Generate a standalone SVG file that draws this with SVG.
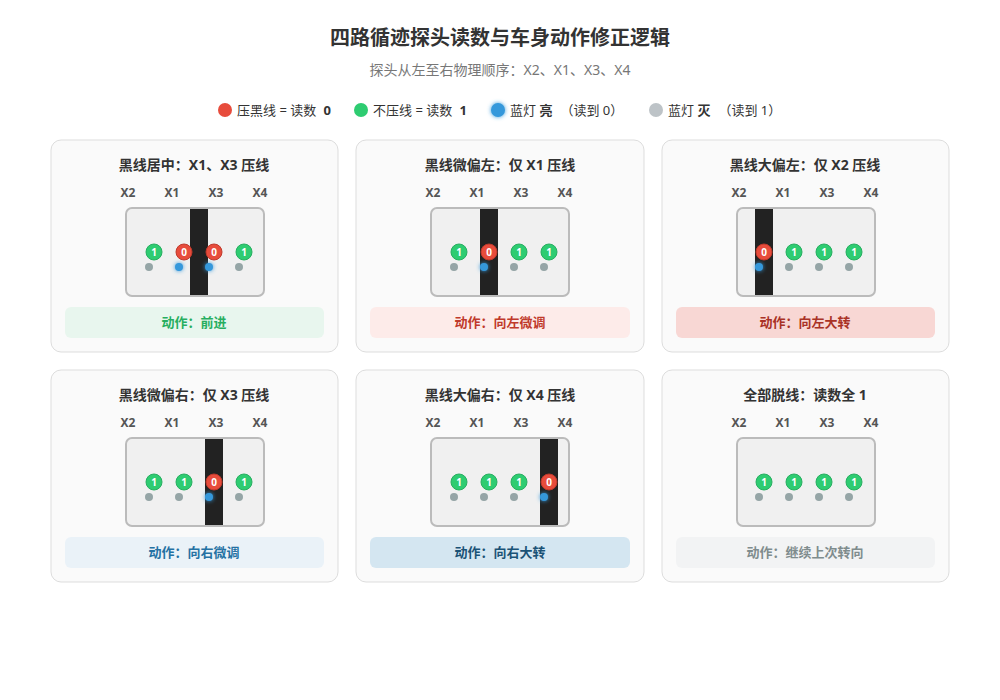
<svg xmlns="http://www.w3.org/2000/svg" width="1000" height="700" viewBox="0 0 1000 700">
<defs>
<style>
text{font-family:"Noto Sans","Noto Sans CJK SC",sans-serif;fill:#333}
.card{fill:#fafafa;stroke:#ddd;stroke-width:1}
.ct{font-size:14px;font-weight:bold;text-anchor:middle}
.lb{font-size:12px;font-weight:bold;fill:#555;text-anchor:middle}
.car{fill:#f0f0f0;stroke:#bbb;stroke-width:2}
.line{fill:#222}
.r{fill:#e74c3c;stroke:#c0392b;stroke-width:1}
.g{fill:#2ecc71;stroke:#27ae60;stroke-width:1}
.n{font-size:10px;font-weight:bold;fill:#fff;text-anchor:middle}
.off{fill:#95a5a6}
.on{fill:#3498db;filter:url(#glow)}
.act{font-size:13px;font-weight:bold;text-anchor:middle}
.lg{font-size:13px}
</style>
<filter id="glow" x="-2" y="-2" width="5" height="5"><feGaussianBlur in="SourceGraphic" stdDeviation="2" result="b"/><feMerge><feMergeNode in="b"/><feMergeNode in="SourceGraphic"/></feMerge></filter>
</defs>
<rect width="1000" height="700" fill="#fff"/>
<text x="500" y="45" text-anchor="middle" font-size="20" font-weight="bold">四路循迹探头读数与车身动作修正逻辑</text>
<text x="500" y="75" text-anchor="middle" font-size="14" style="fill:#777">探头从左至右物理顺序：X2、X1、X3、X4</text>
<g id="legend">
<circle cx="225" cy="110" r="7" fill="#e74c3c"/><text x="237" y="115" class="lg">压黑线 = 读数 <tspan font-weight="bold" dx="4">0</tspan></text>
<circle cx="361" cy="110" r="7" fill="#2ecc71"/><text x="373" y="115" class="lg">不压线 = 读数 <tspan font-weight="bold" dx="4">1</tspan></text>
<circle cx="498" cy="110" r="7" class="on"/><text x="510" y="115" class="lg">蓝灯 <tspan font-weight="bold">亮</tspan><tspan dx="8">（读到 0）</tspan></text>
<circle cx="656" cy="110" r="7" fill="#bdc3c7"/><text x="668" y="115" class="lg">蓝灯 <tspan font-weight="bold">灭</tspan><tspan dx="8">（读到 1）</tspan></text>
</g>

<g id="card1" transform="translate(51,140)">
<rect class="card" width="287" height="212" rx="10"/>
<text class="ct" x="143" y="30">黑线居中：X1、X3 压线</text>
<text class="lb" x="77" y="57">X2</text><text class="lb" x="121" y="57">X1</text><text class="lb" x="165" y="57">X3</text><text class="lb" x="209" y="57">X4</text>
<rect class="car" x="75" y="68" width="138" height="88" rx="6"/>
<rect class="line" x="139" y="69" width="18" height="86"/>
<circle class="g" cx="103" cy="112" r="8"/><text class="n" x="103" y="116">1</text>
<circle class="r" cx="133" cy="112" r="8"/><text class="n" x="133" y="116">0</text>
<circle class="r" cx="163" cy="112" r="8"/><text class="n" x="163" y="116">0</text>
<circle class="g" cx="193" cy="112" r="8"/><text class="n" x="193" y="116">1</text>
<circle class="off" cx="98" cy="127" r="4"/><circle class="on" cx="128" cy="127" r="4"/><circle class="on" cx="158" cy="127" r="4"/><circle class="off" cx="188" cy="127" r="4"/>
<rect x="14" y="167" width="259" height="31" rx="6" fill="#e8f6ee"/>
<text class="act" x="143" y="187" style="fill:#27ae60">动作：前进</text>
</g>

<g id="card2" transform="translate(356,140)">
<rect class="card" width="288" height="212" rx="10"/>
<text class="ct" x="144" y="30">黑线微偏左：仅 X1 压线</text>
<text class="lb" x="77" y="57">X2</text><text class="lb" x="121" y="57">X1</text><text class="lb" x="165" y="57">X3</text><text class="lb" x="209" y="57">X4</text>
<rect class="car" x="75" y="68" width="138" height="88" rx="6"/>
<rect class="line" x="124" y="69" width="18" height="86"/>
<circle class="g" cx="103" cy="112" r="8"/><text class="n" x="103" y="116">1</text>
<circle class="r" cx="133" cy="112" r="8"/><text class="n" x="133" y="116">0</text>
<circle class="g" cx="163" cy="112" r="8"/><text class="n" x="163" y="116">1</text>
<circle class="g" cx="193" cy="112" r="8"/><text class="n" x="193" y="116">1</text>
<circle class="off" cx="98" cy="127" r="4"/><circle class="on" cx="128" cy="127" r="4"/><circle class="off" cx="158" cy="127" r="4"/><circle class="off" cx="188" cy="127" r="4"/>
<rect x="14" y="167" width="260" height="31" rx="6" fill="#fdebe9"/>
<text class="act" x="144" y="187" style="fill:#c0392b">动作：向左微调</text>
</g>

<g id="card3" transform="translate(662,140)">
<rect class="card" width="287" height="212" rx="10"/>
<text class="ct" x="143" y="30">黑线大偏左：仅 X2 压线</text>
<text class="lb" x="77" y="57">X2</text><text class="lb" x="121" y="57">X1</text><text class="lb" x="165" y="57">X3</text><text class="lb" x="209" y="57">X4</text>
<rect class="car" x="75" y="68" width="138" height="88" rx="6"/>
<rect class="line" x="93" y="69" width="18" height="86"/>
<circle class="r" cx="102" cy="112" r="8"/><text class="n" x="102" y="116">0</text>
<circle class="g" cx="132" cy="112" r="8"/><text class="n" x="132" y="116">1</text>
<circle class="g" cx="162" cy="112" r="8"/><text class="n" x="162" y="116">1</text>
<circle class="g" cx="192" cy="112" r="8"/><text class="n" x="192" y="116">1</text>
<circle class="on" cx="97" cy="127" r="4"/><circle class="off" cx="127" cy="127" r="4"/><circle class="off" cx="157" cy="127" r="4"/><circle class="off" cx="187" cy="127" r="4"/>
<rect x="14" y="167" width="259" height="31" rx="6" fill="#f8d7d4"/>
<text class="act" x="143" y="187" style="fill:#a93226">动作：向左大转</text>
</g>

<g id="card4" transform="translate(51,370)">
<rect class="card" width="287" height="212" rx="10"/>
<text class="ct" x="143" y="30">黑线微偏右：仅 X3 压线</text>
<text class="lb" x="77" y="57">X2</text><text class="lb" x="121" y="57">X1</text><text class="lb" x="165" y="57">X3</text><text class="lb" x="209" y="57">X4</text>
<rect class="car" x="75" y="68" width="138" height="88" rx="6"/>
<rect class="line" x="154" y="69" width="18" height="86"/>
<circle class="g" cx="103" cy="112" r="8"/><text class="n" x="103" y="116">1</text>
<circle class="g" cx="133" cy="112" r="8"/><text class="n" x="133" y="116">1</text>
<circle class="r" cx="163" cy="112" r="8"/><text class="n" x="163" y="116">0</text>
<circle class="g" cx="193" cy="112" r="8"/><text class="n" x="193" y="116">1</text>
<circle class="off" cx="98" cy="127" r="4"/><circle class="off" cx="128" cy="127" r="4"/><circle class="on" cx="158" cy="127" r="4"/><circle class="off" cx="188" cy="127" r="4"/>
<rect x="14" y="167" width="259" height="31" rx="6" fill="#eaf2f8"/>
<text class="act" x="143" y="187" style="fill:#2471a3">动作：向右微调</text>
</g>

<g id="card5" transform="translate(356,370)">
<rect class="card" width="288" height="212" rx="10"/>
<text class="ct" x="144" y="30">黑线大偏右：仅 X4 压线</text>
<text class="lb" x="77" y="57">X2</text><text class="lb" x="121" y="57">X1</text><text class="lb" x="165" y="57">X3</text><text class="lb" x="209" y="57">X4</text>
<rect class="car" x="75" y="68" width="138" height="88" rx="6"/>
<rect class="line" x="184" y="69" width="18" height="86"/>
<circle class="g" cx="103" cy="112" r="8"/><text class="n" x="103" y="116">1</text>
<circle class="g" cx="133" cy="112" r="8"/><text class="n" x="133" y="116">1</text>
<circle class="g" cx="163" cy="112" r="8"/><text class="n" x="163" y="116">1</text>
<circle class="r" cx="193" cy="112" r="8"/><text class="n" x="193" y="116">0</text>
<circle class="off" cx="98" cy="127" r="4"/><circle class="off" cx="128" cy="127" r="4"/><circle class="off" cx="158" cy="127" r="4"/><circle class="on" cx="188" cy="127" r="4"/>
<rect x="14" y="167" width="260" height="31" rx="6" fill="#d4e6f1"/>
<text class="act" x="144" y="187" style="fill:#1a5276">动作：向右大转</text>
</g>

<g id="card6" transform="translate(662,370)">
<rect class="card" width="287" height="212" rx="10"/>
<text class="ct" x="143" y="30">全部脱线：读数全 1</text>
<text class="lb" x="77" y="57">X2</text><text class="lb" x="121" y="57">X1</text><text class="lb" x="165" y="57">X3</text><text class="lb" x="209" y="57">X4</text>
<rect class="car" x="75" y="68" width="138" height="88" rx="6"/>
<circle class="g" cx="102" cy="112" r="8"/><text class="n" x="102" y="116">1</text>
<circle class="g" cx="132" cy="112" r="8"/><text class="n" x="132" y="116">1</text>
<circle class="g" cx="162" cy="112" r="8"/><text class="n" x="162" y="116">1</text>
<circle class="g" cx="192" cy="112" r="8"/><text class="n" x="192" y="116">1</text>
<circle class="off" cx="97" cy="127" r="4"/><circle class="off" cx="127" cy="127" r="4"/><circle class="off" cx="157" cy="127" r="4"/><circle class="off" cx="187" cy="127" r="4"/>
<rect x="14" y="167" width="259" height="31" rx="6" fill="#f2f3f4"/>
<text class="act" x="143" y="187" style="fill:#7f8c8d">动作：继续上次转向</text>
</g>
<g id="connectors"/>
</svg>
